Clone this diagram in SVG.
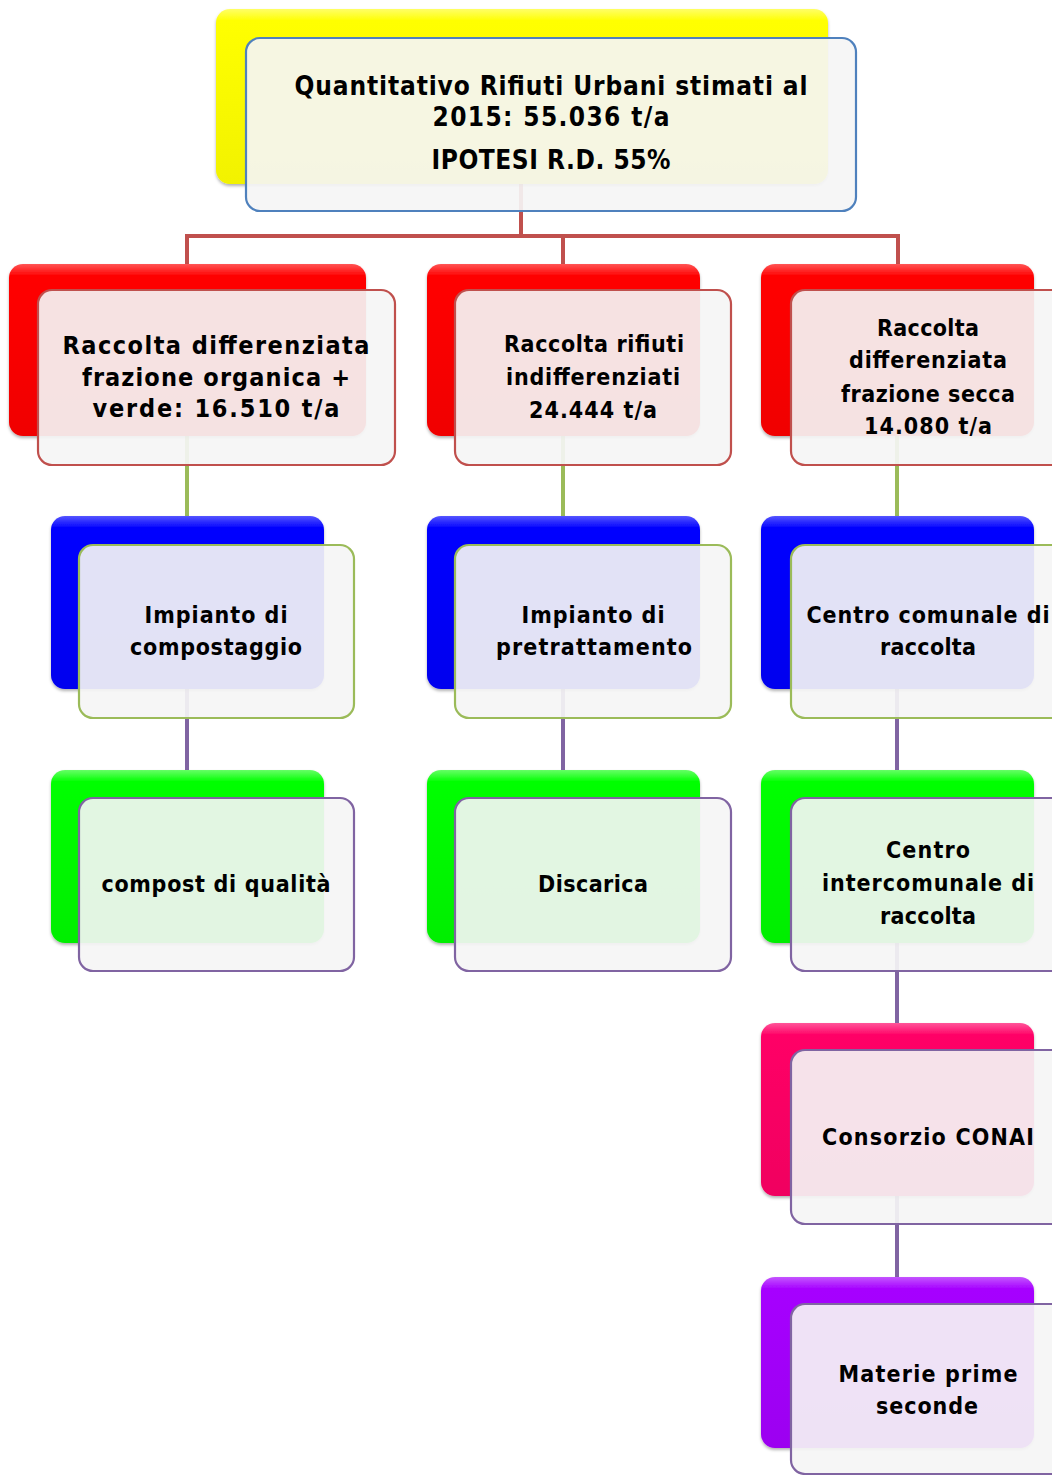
<svg xmlns="http://www.w3.org/2000/svg" width="1052" height="1475" viewBox="0 0 1052 1475">
<defs>
<linearGradient id="gY" x1="0" y1="0" x2="0" y2="1"><stop offset="0" stop-color="#ffff66"/><stop offset="0.07" stop-color="#ffff00"/><stop offset="1" stop-color="#f2f200"/></linearGradient>
<linearGradient id="gR" x1="0" y1="0" x2="0" y2="1"><stop offset="0" stop-color="#ff5555"/><stop offset="0.07" stop-color="#ff0000"/><stop offset="1" stop-color="#f00000"/></linearGradient>
<linearGradient id="gB" x1="0" y1="0" x2="0" y2="1"><stop offset="0" stop-color="#5555ff"/><stop offset="0.07" stop-color="#0000ff"/><stop offset="1" stop-color="#0000ee"/></linearGradient>
<linearGradient id="gG" x1="0" y1="0" x2="0" y2="1"><stop offset="0" stop-color="#66ff66"/><stop offset="0.07" stop-color="#00ff00"/><stop offset="1" stop-color="#00ee00"/></linearGradient>
<linearGradient id="gP" x1="0" y1="0" x2="0" y2="1"><stop offset="0" stop-color="#ff5599"/><stop offset="0.07" stop-color="#ff0066"/><stop offset="1" stop-color="#f00060"/></linearGradient>
<linearGradient id="gV" x1="0" y1="0" x2="0" y2="1"><stop offset="0" stop-color="#c455ff"/><stop offset="0.07" stop-color="#a600ff"/><stop offset="1" stop-color="#9c00f0"/></linearGradient>
<filter id="sh" x="-5%" y="-5%" width="110%" height="115%"><feDropShadow dx="0" dy="2" stdDeviation="1.5" flood-color="#000" flood-opacity="0.3"/></filter>
</defs>
<style>
.back{filter:url(#sh)}
.front{fill:#f5f5f5;fill-opacity:0.92;stroke-width:2.2}
.c{fill:none;stroke-width:4}
text{font-family:"DejaVu Sans Condensed","DejaVu Sans",sans-serif;font-weight:bold;fill:#000;text-anchor:middle}
.t26{font-size:26px}
.t25{font-size:25px}
.t23{font-size:23px}
</style>
<g id="connectors">
<path class="c" stroke="#c0504d" d="M521,184V236M185,236H900M187,236V264M563,236V264M898,236V264"/>
<path class="c" stroke="#9bbb59" d="M187,436V516M563,436V516M897,436V516"/>
<path class="c" stroke="#8064a2" d="M187,689V770M563,689V770M897,689V770M897,943V1023M897,1196V1277"/>
</g>
<g id="n-top">
<rect class="back" x="216" y="9" width="612" height="175" rx="14" fill="url(#gY)"/>
<rect class="front" x="246" y="38" width="610" height="173" rx="14" stroke="#4f81bd"/>
<text class="t26" x="551" y="95" textLength="513">Quantitativo Rifiuti Urbani stimati al</text>
<text class="t26" x="551" y="126" textLength="237">2015: 55.036 t/a</text>
<text class="t26" x="551" y="169" textLength="239">IPOTESI R.D. 55%</text>
</g>
<g id="n-organica">
<rect class="back" x="9" y="264" width="357" height="172" rx="14" fill="url(#gR)"/>
<rect class="front" x="38" y="290" width="357" height="175" rx="14" stroke="#c0504d"/>
<text class="t25" x="216" y="354" textLength="307">Raccolta differenziata</text>
<text class="t25" x="216" y="386" textLength="268">frazione organica +</text>
<text class="t25" x="216" y="417" textLength="247">verde: 16.510 t/a</text>
</g>
<g id="n-indiff">
<rect class="back" x="427" y="264" width="273" height="172" rx="14" fill="url(#gR)"/>
<rect class="front" x="455" y="290" width="276" height="175" rx="14" stroke="#c0504d"/>
<text class="t23" x="594" y="352" textLength="180">Raccolta rifiuti</text>
<text class="t23" x="593" y="385" textLength="174">indifferenziati</text>
<text class="t23" x="593" y="418" textLength="128">24.444 t/a</text>
</g>
<g id="n-secca">
<rect class="back" x="761" y="264" width="273" height="172" rx="14" fill="url(#gR)"/>
<rect class="front" x="791" y="290" width="276" height="175" rx="14" stroke="#c0504d"/>
<text class="t23" x="928" y="336" textLength="102">Raccolta</text>
<text class="t23" x="928" y="368" textLength="158">differenziata</text>
<text class="t23" x="928" y="402" textLength="174">frazione secca</text>
<text class="t23" x="928" y="434" textLength="128">14.080 t/a</text>
</g>
<g id="n-compostaggio">
<rect class="back" x="51" y="516" width="273" height="173" rx="14" fill="url(#gB)"/>
<rect class="front" x="79" y="545" width="275" height="173" rx="14" stroke="#9bbb59"/>
<text class="t23" x="216" y="623" textLength="143">Impianto di</text>
<text class="t23" x="216" y="655" textLength="172">compostaggio</text>
</g>
<g id="n-pretratt">
<rect class="back" x="427" y="516" width="273" height="173" rx="14" fill="url(#gB)"/>
<rect class="front" x="455" y="545" width="276" height="173" rx="14" stroke="#9bbb59"/>
<text class="t23" x="593" y="623" textLength="143">Impianto di</text>
<text class="t23" x="594" y="655" textLength="196">pretrattamento</text>
</g>
<g id="n-centro">
<rect class="back" x="761" y="516" width="273" height="173" rx="14" fill="url(#gB)"/>
<rect class="front" x="791" y="545" width="276" height="173" rx="14" stroke="#9bbb59"/>
<text class="t23" x="928" y="623" textLength="243">Centro comunale di</text>
<text class="t23" x="928" y="655" textLength="96">raccolta</text>
</g>
<g id="n-compost">
<rect class="back" x="51" y="770" width="273" height="173" rx="14" fill="url(#gG)"/>
<rect class="front" x="79" y="798" width="275" height="173" rx="14" stroke="#8064a2"/>
<text class="t23" x="216" y="892" textLength="229">compost di qualità</text>
</g>
<g id="n-discarica">
<rect class="back" x="427" y="770" width="273" height="173" rx="14" fill="url(#gG)"/>
<rect class="front" x="455" y="798" width="276" height="173" rx="14" stroke="#8064a2"/>
<text class="t23" x="593" y="892" textLength="110">Discarica</text>
</g>
<g id="n-intercomunale">
<rect class="back" x="761" y="770" width="273" height="173" rx="14" fill="url(#gG)"/>
<rect class="front" x="791" y="798" width="276" height="173" rx="14" stroke="#8064a2"/>
<text class="t23" x="928" y="858" textLength="84">Centro</text>
<text class="t23" x="928" y="891" textLength="212">intercomunale di</text>
<text class="t23" x="928" y="924" textLength="96">raccolta</text>
</g>
<g id="n-conai">
<rect class="back" x="761" y="1023" width="273" height="173" rx="14" fill="url(#gP)"/>
<rect class="front" x="791" y="1050" width="276" height="174" rx="14" stroke="#8064a2"/>
<text class="t23" x="928" y="1145" textLength="212">Consorzio CONAI</text>
</g>
<g id="n-materie">
<rect class="back" x="761" y="1277" width="273" height="171" rx="14" fill="url(#gV)"/>
<rect class="front" x="791" y="1304" width="276" height="170" rx="14" stroke="#8064a2"/>
<text class="t23" x="928" y="1382" textLength="179">Materie prime</text>
<text class="t23" x="927" y="1414" textLength="102">seconde</text>
</g>
</svg>
